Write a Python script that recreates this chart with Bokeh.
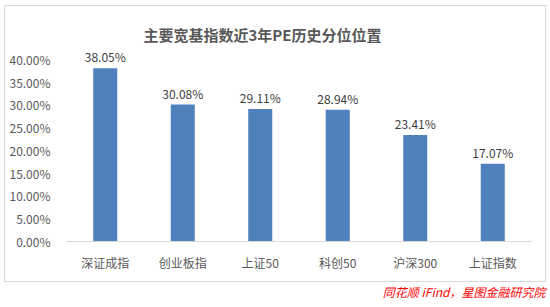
from bokeh.plotting import figure
from bokeh.models import (ColumnDataSource, FactorRange, Range1d, NumeralTickFormatter,
                          FixedTicker, Title, InlineStyleSheet)
from bokeh.core.properties import value
from bokeh.embed import file_html
from bokeh.resources import INLINE

categories = ["深证成指", "创业板指", "上证50", "科创50", "沪深300", "上证指数"]
values = [38.05, 30.08, 29.11, 28.94, 23.41, 17.07]
labels = ["38.05%", "30.08%", "29.11%", "28.94%", "23.41%", "17.07%"]
y_ticks = [0, 0.05, 0.10, 0.15, 0.20, 0.25, 0.30, 0.35, 0.40]

FONT = "Noto Sans CJK SC"

src = ColumnDataSource(dict(cat=categories, val=[v / 100 for v in values], lab=labels))

p = figure(width=550, height=307, x_range=FactorRange(*categories, range_padding=0),
           y_range=Range1d(0, 0.4217), output_backend="svg", toolbar_location=None,
           min_border_left=66, min_border_right=19, min_border_top=49, min_border_bottom=64)
p.x_range.factor_padding = 0
p.outline_line_color = None
p.background_fill_color = "white"
p.border_fill_color = "white"

p.vbar(x="cat", top="val", width=0.31, source=src, fill_color="#4F81BD", line_color=None)
p.text(x="cat", y="val", text="lab", source=src, text_align="center", text_baseline="bottom",
       y_offset=-3, text_font=value(FONT), text_font_size="12px", text_color="#404040")

p.xgrid.grid_line_color = None
p.ygrid.grid_line_color = None

p.yaxis.ticker = FixedTicker(ticks=y_ticks)
p.yaxis.formatter = NumeralTickFormatter(format="0.00%")
p.yaxis.axis_line_color = None
p.yaxis.major_tick_line_color = None
p.yaxis.minor_tick_line_color = None
p.yaxis.major_label_text_font = FONT
p.yaxis.major_label_text_font_size = "12px"
p.yaxis.major_label_text_color = "#595959"
p.yaxis.major_label_standoff = 10

p.xaxis.axis_line_color = "#D9D9D9"
p.xaxis.major_tick_line_color = None
p.xaxis.minor_tick_line_color = None
p.xaxis.major_label_text_font = FONT
p.xaxis.major_label_text_font_size = "12px"
p.xaxis.major_label_text_color = "#595959"
p.xaxis.major_label_standoff = 6

title = Title(text="主要宽基指数近3年PE历史分位位置", align="left", offset=77, text_font=FONT,
              text_font_size="15px", text_font_style="bold", text_color="#595959")
p.add_layout(title, "above")

source_note = Title(text="同花顺 iFind，星图金融研究院", align="right", offset=-14, text_font=FONT,
                    text_font_size="12px", text_font_style="italic", text_color="#FF0000",
                    standoff=15)
p.add_layout(source_note, "below")

p.stylesheets = [InlineStyleSheet(css=":host{position:relative;} :host::after{content:'';position:absolute;left:4px;top:5px;width:540px;height:275px;border:1px solid #D9D9D9;pointer-events:none;}")]

open("out.html", "w").write(file_html(p, INLINE))
